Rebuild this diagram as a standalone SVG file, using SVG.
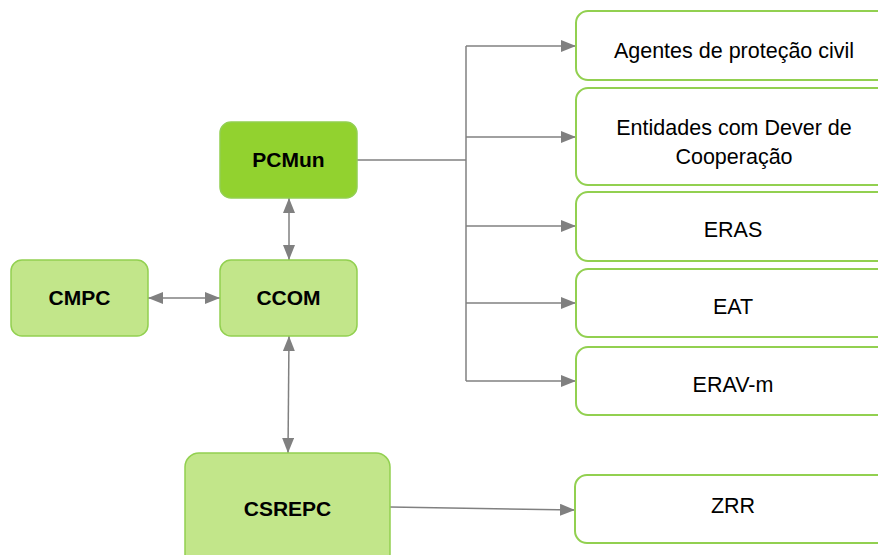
<svg xmlns="http://www.w3.org/2000/svg" width="878" height="555" viewBox="0 0 878 555">
<style>
.main{stroke:#92d050;stroke-width:1.5}
.light{fill:#c2e68a}
.dark{fill:#92d22f}
.out{fill:#ffffff;stroke:#92d050;stroke-width:2}
.lb{font-family:"Liberation Sans",Arial,sans-serif;font-weight:bold;font-size:21px;fill:#000;text-anchor:middle}
.lt{font-family:"Liberation Sans",Arial,sans-serif;font-size:21.5px;fill:#000;text-anchor:middle}
.c{fill:none;stroke:#808080;stroke-width:1.5}
</style>
<defs>
<marker id="a2" viewBox="0 0 15 12" refX="15" refY="6" markerWidth="15" markerHeight="12" markerUnits="userSpaceOnUse" orient="auto-start-reverse">
<path d="M0,0 L15,6 L0,12 z" fill="#808080"/>
</marker>
</defs>
<g id="connectors">
<path class="c" d="M357,160 H466"/>
<path class="c" d="M466,46 V381"/>
<path class="c" marker-end="url(#a2)" d="M466,46 H576"/>
<path class="c" marker-end="url(#a2)" d="M466,137 H576"/>
<path class="c" marker-end="url(#a2)" d="M466,226 H576"/>
<path class="c" marker-end="url(#a2)" d="M466,303 H576"/>
<path class="c" marker-end="url(#a2)" d="M466,381 H576"/>
<path class="c" marker-start="url(#a2)" marker-end="url(#a2)" d="M289,198 V260"/>
<path class="c" marker-start="url(#a2)" marker-end="url(#a2)" d="M148,298 H220"/>
<path class="c" marker-start="url(#a2)" marker-end="url(#a2)" d="M289,336 L288,453"/>
<path class="c" marker-end="url(#a2)" d="M390,507 L575,510"/>
</g>
<g id="PCMun"><rect class="main dark" x="220" y="122" width="137" height="76" rx="11"/><text class="lb" x="288.5" y="167">PCMun</text></g>
<g id="CMPC"><rect class="main light" x="11" y="260" width="137" height="76" rx="11"/><text class="lb" x="79.5" y="305">CMPC</text></g>
<g id="CCOM"><rect class="main light" x="220" y="260" width="137" height="76" rx="11"/><text class="lb" x="288.5" y="305">CCOM</text></g>
<g id="CSREPC"><rect class="main light" x="185" y="453" width="205" height="115" rx="14"/><text class="lb" x="287.5" y="516">CSREPC</text></g>
<g id="Agentes"><rect class="out" x="576" y="11" width="320" height="69" rx="12"/><text class="lt" x="734" y="58">Agentes de proteção civil</text></g>
<g id="Entidades"><rect class="out" x="576" y="88" width="320" height="97" rx="12"/><text class="lt" x="734" y="135">Entidades com Dever de</text><text class="lt" x="734" y="164">Cooperação</text></g>
<g id="ERAS"><rect class="out" x="576" y="192" width="320" height="69" rx="12"/><text class="lt" x="733" y="237">ERAS</text></g>
<g id="EAT"><rect class="out" x="576" y="269" width="320" height="68" rx="12"/><text class="lt" x="733" y="314">EAT</text></g>
<g id="ERAV-m"><rect class="out" x="576" y="347" width="320" height="68" rx="12"/><text class="lt" x="733" y="392">ERAV-m</text></g>
<g id="ZRR"><rect class="out" x="575" y="475" width="320" height="68" rx="12"/><text class="lt" x="733" y="513">ZRR</text></g>
</svg>
